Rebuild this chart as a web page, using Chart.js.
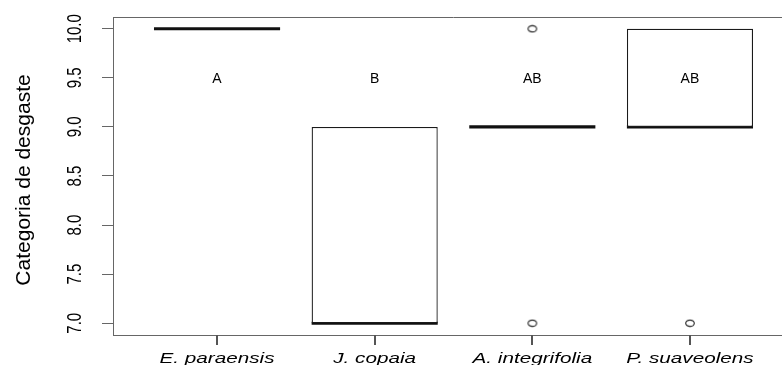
<!DOCTYPE html>
<html>
<head>
<meta charset="utf-8">
<script src="https://cdn.jsdelivr.net/npm/chart.js@4"></script>
<style>
  html, body { margin: 0; padding: 0; background: #fff; overflow: hidden; }
  canvas { display: block; }
</style>
</head>
<body>
<canvas id="boxChart" width="800" height="365"></canvas>
<script>
// --- Data ---
const categories = ['E. paraensis', 'J. copaia', 'A. integrifolia', 'P. suaveolens'];
const positions = [1, 2, 3, 4];
const lowerQuartile = [10, 7, 9, 9];
const upperQuartile = [10, 9, 9, 10];
const medians = [10, 7, 9, 9];
const outlierPositions = [3, 3, 4];
const outlierValues = [10, 7, 7];
const groupLetters = ['A', 'B', 'AB', 'AB'];
const letterLevel = 9.5;
const yTicks = [7.0, 7.5, 8.0, 8.5, 9.0, 9.5, 10.0];

const medianHalf = 0.016; // thickness of the median bar, in data units
const frameColor = '#666';

// open circle for outliers (slightly wide, like the reference)
const ring = document.createElement('canvas');
ring.width = 12;
ring.height = 9;
const rctx = ring.getContext('2d');
rctx.strokeStyle = '#222';
rctx.lineWidth = 1.1;
rctx.beginPath();
rctx.ellipse(6, 4.5, 4.3, 3.1, 0, 0, Math.PI * 2);
rctx.stroke();

// text, top frame line, x tick marks
const labelsPlugin = {
    id: 'labels',
    afterDraw(chart) {
        const { ctx, chartArea, scales: { x, y } } = chart;
        ctx.save();

        ctx.strokeStyle = frameColor;
        ctx.lineWidth = 1;
        ctx.beginPath();
        ctx.moveTo(chartArea.left, chartArea.top + 0.5);
        ctx.lineTo(chartArea.right, chartArea.top + 0.5);
        ctx.stroke();

        // x tick marks
        const axisY = Math.round(y.getPixelForValue(y.min));
        ctx.fillStyle = '#555';
        positions.forEach(p => {
            const px = Math.round(x.getPixelForValue(p));
            ctx.fillRect(px - 1, axisY, 2, 10);
        });

        ctx.fillStyle = '#000';

        // y tick labels, rotated
        yTicks.forEach(v => {
            ctx.save();
            ctx.translate(75, y.getPixelForValue(v));
            ctx.scale(1.38, 1);
            ctx.rotate(-Math.PI / 2);
            ctx.font = '15px "Liberation Sans", Arial, sans-serif';
            ctx.textAlign = 'center';
            ctx.textBaseline = 'middle';
            ctx.fillText(v.toFixed(1), 0, 0);
            ctx.restore();
        });

        // x tick labels, italic
        positions.forEach((p, i) => {
            ctx.save();
            ctx.translate(x.getPixelForValue(p), 363);
            ctx.scale(1.38, 1);
            ctx.font = 'italic 15px "Liberation Sans", Arial, sans-serif';
            ctx.textAlign = 'center';
            ctx.textBaseline = 'alphabetic';
            ctx.fillText(categories[i], 0, 0);
            ctx.restore();
        });

        // group letters
        ctx.font = '14px "Liberation Sans", Arial, sans-serif';
        ctx.textAlign = 'center';
        ctx.textBaseline = 'alphabetic';
        positions.forEach((p, i) => {
            ctx.fillText(groupLetters[i], x.getPixelForValue(p), y.getPixelForValue(letterLevel) + 5);
        });

        // y axis title
        ctx.save();
        ctx.translate(24, 180);
        ctx.rotate(-Math.PI / 2);
        ctx.font = '21px "Liberation Sans", Arial, sans-serif';
        ctx.textAlign = 'center';
        ctx.textBaseline = 'middle';
        ctx.fillText('Categoria de desgaste', 0, 0);
        ctx.restore();

        ctx.restore();
    }
};

new Chart(document.getElementById('boxChart'), {
    type: 'bar',
    data: {
        datasets: [
            {
                label: 'box',
                data: positions.map((p, i) => ({ x: p, y: [lowerQuartile[i], upperQuartile[i]] })),
                backgroundColor: '#fff',
                borderColor: '#1a1a1a',
                borderWidth: 1.3,
                borderSkipped: false,
                grouped: false,
                barPercentage: 0.8,
                categoryPercentage: 1
            },
            {
                label: 'median',
                data: positions.map((p, i) => ({ x: p, y: [medians[i] - medianHalf, medians[i] + medianHalf] })),
                backgroundColor: '#111',
                borderWidth: 0,
                grouped: false,
                barPercentage: 0.8,
                categoryPercentage: 1
            },
            {
                type: 'scatter',
                label: 'outliers',
                data: outlierPositions.map((p, i) => ({ x: p, y: outlierValues[i] })),
                pointStyle: ring,
                pointRadius: 5,
                showLine: false
            }
        ]
    },
    options: {
        responsive: false,
        animation: false,
        events: [],
        layout: { padding: { top: 17, right: 6, left: 0, bottom: 0 } },
        plugins: {
            legend: { display: false },
            tooltip: { enabled: false }
        },
        scales: {
            x: {
                type: 'linear',
                min: 0.34,
                max: 4.66,
                offset: false,
                afterBuildTicks: (scale) => { scale.ticks = positions.map(v => ({ value: v })); },
                afterFit: (scale) => { scale.height = 30; },
                ticks: { display: false },
                grid: { display: false },
                border: { display: true, color: frameColor, width: 1 }
            },
            y: {
                min: 6.88,
                max: 10.12,
                afterBuildTicks: (scale) => { scale.ticks = yTicks.map(v => ({ value: v })); },
                afterFit: (scale) => { scale.width = 113; },
                ticks: { display: false },
                grid: { offset: false, drawOnChartArea: false, tickLength: 11, color: frameColor },
                border: { display: true, color: frameColor, width: 1 }
            }
        }
    },
    plugins: [labelsPlugin]
});
</script>
</body>
</html>
